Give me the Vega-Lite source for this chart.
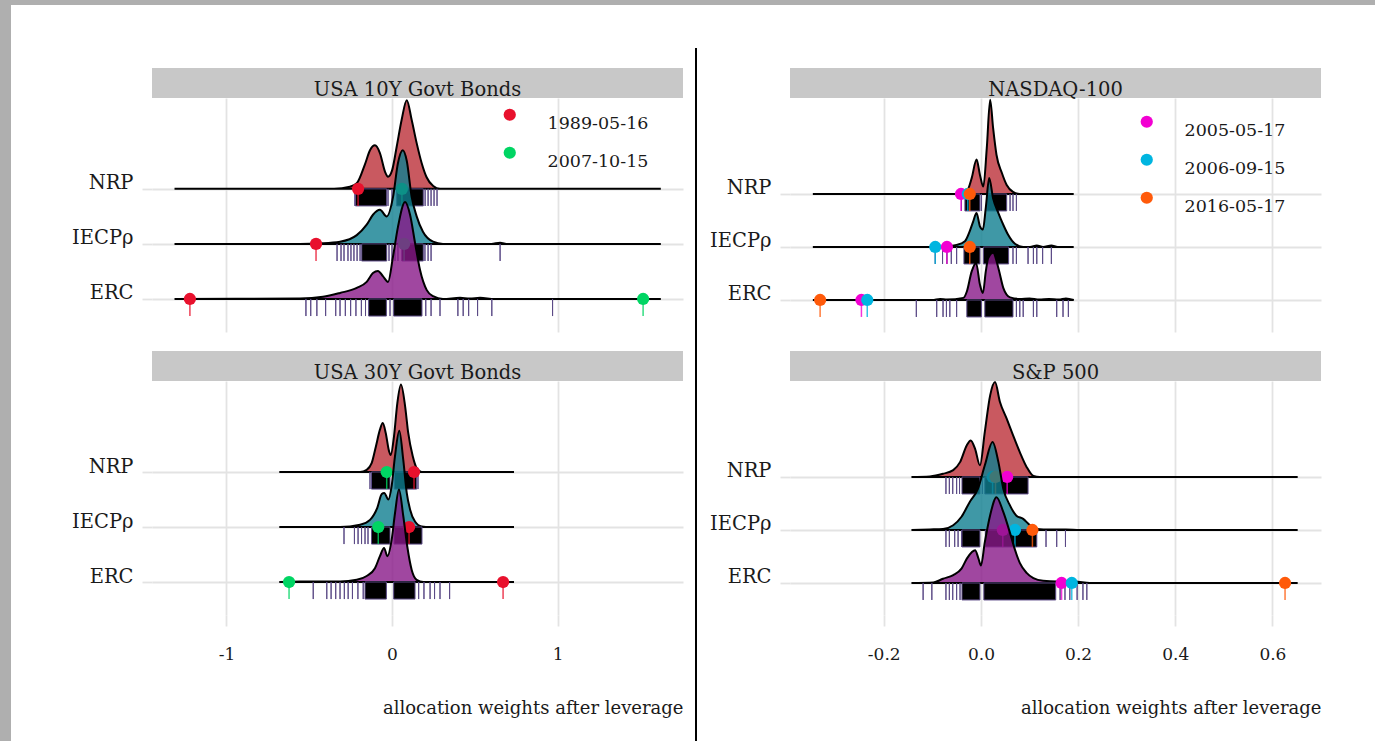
{
"$schema":"https://vega.github.io/schema/vega-lite/v6.json",
"padding":0,
"background":"white",
"config":{
 "view":{"stroke":null},
 "axis":{"domain":false,"gridColor":"#e3e3e3","gridWidth":1.8,"tickColor":"#e3e3e3","tickWidth":1.8,"labelFont":"DejaVu Serif","labelColor":"#1a1a1a","titleFont":"DejaVu Serif","titleColor":"#1a1a1a","titleFontWeight":"normal","labelOverlap":false},
 "axisY":{"tickSize":10,"labelPadding":9,"labelBaseline":"alphabetic","labelFontSize":19.5},
 "axisX":{"tickSize":11,"labelPadding":20,"labelFontSize":17,"titleFontSize":18,"titleAnchor":"end","titlePadding":37}
},
"datasets":{
"tl_d":[
{"m":"NRP","x":-1.314,"y":2},{"m":"NRP","x":-0.35,"y":2},{"m":"NRP","x":-0.254,"y":2.04},{"m":"NRP","x":-0.213,"y":2.1},{"m":"NRP","x":-0.163,"y":2.45},{"m":"NRP","x":-0.133,"y":2.7},{"m":"NRP","x":-0.103,"y":2.79},{"m":"NRP","x":-0.073,"y":2.65},{"m":"NRP","x":-0.042,"y":2.31},{"m":"NRP","x":-0.024,"y":2.22},{"m":"NRP","x":0,"y":2.33},{"m":"NRP","x":0.028,"y":2.76},{"m":"NRP","x":0.058,"y":3.25},{"m":"NRP","x":0.089,"y":3.61},{"m":"NRP","x":0.119,"y":3.25},{"m":"NRP","x":0.149,"y":2.83},{"m":"NRP","x":0.179,"y":2.47},{"m":"NRP","x":0.209,"y":2.21},{"m":"NRP","x":0.249,"y":2.05},{"m":"NRP","x":0.29,"y":2},{"m":"NRP","x":1.624,"y":2},
{"m":"IECP","x":-1.314,"y":1},{"m":"IECP","x":-0.556,"y":1},{"m":"IECP","x":-0.435,"y":1.01},{"m":"IECP","x":-0.314,"y":1.04},{"m":"IECP","x":-0.213,"y":1.16},{"m":"IECP","x":-0.153,"y":1.35},{"m":"IECP","x":-0.115,"y":1.53},{"m":"IECP","x":-0.073,"y":1.62},{"m":"IECP","x":-0.032,"y":1.5},{"m":"IECP","x":0.006,"y":1.85},{"m":"IECP","x":0.036,"y":2.47},{"m":"IECP","x":0.065,"y":2.7},{"m":"IECP","x":0.089,"y":2.51},{"m":"IECP","x":0.119,"y":1.85},{"m":"IECP","x":0.149,"y":1.5},{"m":"IECP","x":0.187,"y":1.22},{"m":"IECP","x":0.248,"y":1.04},{"m":"IECP","x":0.308,"y":1},{"m":"IECP","x":0.6,"y":1},{"m":"IECP","x":0.653,"y":1.02},{"m":"IECP","x":0.7,"y":1},{"m":"IECP","x":1.624,"y":1},
{"m":"ERC","x":-1.314,"y":0},{"m":"ERC","x":-0.556,"y":0.01},{"m":"ERC","x":-0.417,"y":0.04},{"m":"ERC","x":-0.314,"y":0.11},{"m":"ERC","x":-0.213,"y":0.2},{"m":"ERC","x":-0.153,"y":0.31},{"m":"ERC","x":-0.115,"y":0.47},{"m":"ERC","x":-0.085,"y":0.51},{"m":"ERC","x":-0.054,"y":0.41},{"m":"ERC","x":-0.024,"y":0.31},{"m":"ERC","x":0.006,"y":0.77},{"m":"ERC","x":0.036,"y":1.31},{"m":"ERC","x":0.079,"y":1.76},{"m":"ERC","x":0.109,"y":1.53},{"m":"ERC","x":0.139,"y":1.02},{"m":"ERC","x":0.169,"y":0.53},{"m":"ERC","x":0.21,"y":0.16},{"m":"ERC","x":0.248,"y":0.05},{"m":"ERC","x":0.308,"y":0},{"m":"ERC","x":0.411,"y":0.02},{"m":"ERC","x":0.47,"y":0.01},{"m":"ERC","x":0.532,"y":0.02},{"m":"ERC","x":0.62,"y":0},{"m":"ERC","x":1.624,"y":0}
],
"tl_r":[
{"m":"NRP","x":-0.221,"x2":-0.032},{"m":"NRP","x":0.028,"x2":0.189},{"m":"NRP","x":-0.224,"x2":-0.224},{"m":"NRP","x":-0.024,"x2":-0.024},{"m":"NRP","x":0,"x2":0},{"m":"NRP","x":0.2,"x2":0.2},{"m":"NRP","x":0.218,"x2":0.218},{"m":"NRP","x":0.236,"x2":0.236},{"m":"NRP","x":0.254,"x2":0.254},{"m":"NRP","x":0.272,"x2":0.272},
{"m":"IECP","x":-0.183,"x2":-0.032},{"m":"IECP","x":0.059,"x2":0.189},{"m":"IECP","x":-0.332,"x2":-0.332},{"m":"IECP","x":-0.308,"x2":-0.308},{"m":"IECP","x":-0.29,"x2":-0.29},{"m":"IECP","x":-0.266,"x2":-0.266},{"m":"IECP","x":-0.248,"x2":-0.248},{"m":"IECP","x":-0.23,"x2":-0.23},{"m":"IECP","x":-0.211,"x2":-0.211},{"m":"IECP","x":-0.193,"x2":-0.193},{"m":"IECP","x":-0.018,"x2":-0.018},{"m":"IECP","x":0,"x2":0},{"m":"IECP","x":0.018,"x2":0.018},{"m":"IECP","x":0.036,"x2":0.036},{"m":"IECP","x":0.199,"x2":0.199},{"m":"IECP","x":0.218,"x2":0.218},{"m":"IECP","x":0.236,"x2":0.236},{"m":"IECP","x":0.653,"x2":0.653},
{"m":"ERC","x":-0.141,"x2":-0.034},{"m":"ERC","x":0.01,"x2":0.181},{"m":"ERC","x":-0.52,"x2":-0.52},{"m":"ERC","x":-0.491,"x2":-0.491},{"m":"ERC","x":-0.454,"x2":-0.454},{"m":"ERC","x":-0.401,"x2":-0.401},{"m":"ERC","x":-0.34,"x2":-0.34},{"m":"ERC","x":-0.314,"x2":-0.314},{"m":"ERC","x":-0.282,"x2":-0.282},{"m":"ERC","x":-0.25,"x2":-0.25},{"m":"ERC","x":-0.218,"x2":-0.218},{"m":"ERC","x":-0.185,"x2":-0.185},{"m":"ERC","x":-0.16,"x2":-0.16},{"m":"ERC","x":-0.012,"x2":-0.012},{"m":"ERC","x":0.204,"x2":0.204},{"m":"ERC","x":0.236,"x2":0.236},{"m":"ERC","x":0.29,"x2":0.29},{"m":"ERC","x":0.398,"x2":0.398},{"m":"ERC","x":0.43,"x2":0.43},{"m":"ERC","x":0.463,"x2":0.463},{"m":"ERC","x":0.517,"x2":0.517},{"m":"ERC","x":0.603,"x2":0.603},{"m":"ERC","x":0.97,"x2":0.97}
],
"tl_p":[
{"m":"NRP","x":-0.205,"date":"1989-05-16"},{"m":"NRP","x":0.06,"date":"2007-10-15"},
{"m":"IECP","x":-0.459,"date":"1989-05-16"},{"m":"IECP","x":0.073,"date":"2007-10-15"},
{"m":"ERC","x":-1.221,"date":"1989-05-16"},{"m":"ERC","x":1.517,"date":"2007-10-15"}
],
"bl_d":[
{"m":"NRP","x":-0.681,"y":2},{"m":"NRP","x":-0.193,"y":2},{"m":"NRP","x":-0.153,"y":2.04},{"m":"NRP","x":-0.123,"y":2.16},{"m":"NRP","x":-0.097,"y":2.47},{"m":"NRP","x":-0.073,"y":2.77},{"m":"NRP","x":-0.056,"y":2.89},{"m":"NRP","x":-0.038,"y":2.71},{"m":"NRP","x":-0.018,"y":2.38},{"m":"NRP","x":-0.008,"y":2.31},{"m":"NRP","x":0.012,"y":2.65},{"m":"NRP","x":0.032,"y":3.25},{"m":"NRP","x":0.054,"y":3.59},{"m":"NRP","x":0.079,"y":3.2},{"m":"NRP","x":0.098,"y":2.71},{"m":"NRP","x":0.125,"y":2.29},{"m":"NRP","x":0.149,"y":2.07},{"m":"NRP","x":0.179,"y":2},{"m":"NRP","x":0.737,"y":2},
{"m":"IECP","x":-0.681,"y":1},{"m":"IECP","x":-0.314,"y":1},{"m":"IECP","x":-0.193,"y":1.04},{"m":"IECP","x":-0.133,"y":1.13},{"m":"IECP","x":-0.089,"y":1.35},{"m":"IECP","x":-0.062,"y":1.6},{"m":"IECP","x":-0.047,"y":1.62},{"m":"IECP","x":-0.022,"y":1.5},{"m":"IECP","x":-0.002,"y":1.75},{"m":"IECP","x":0.018,"y":2.29},{"m":"IECP","x":0.044,"y":2.75},{"m":"IECP","x":0.068,"y":2.22},{"m":"IECP","x":0.089,"y":1.62},{"m":"IECP","x":0.109,"y":1.32},{"m":"IECP","x":0.139,"y":1.1},{"m":"IECP","x":0.179,"y":1.01},{"m":"IECP","x":0.23,"y":1},{"m":"IECP","x":0.737,"y":1},
{"m":"ERC","x":-0.681,"y":0},{"m":"ERC","x":-0.556,"y":0.01},{"m":"ERC","x":-0.314,"y":0.01},{"m":"ERC","x":-0.213,"y":0.04},{"m":"ERC","x":-0.153,"y":0.11},{"m":"ERC","x":-0.103,"y":0.25},{"m":"ERC","x":-0.073,"y":0.47},{"m":"ERC","x":-0.048,"y":0.62},{"m":"ERC","x":-0.028,"y":0.47},{"m":"ERC","x":-0.002,"y":0.77},{"m":"ERC","x":0.018,"y":1.25},{"m":"ERC","x":0.042,"y":1.68},{"m":"ERC","x":0.068,"y":1.2},{"m":"ERC","x":0.092,"y":0.65},{"m":"ERC","x":0.119,"y":0.22},{"m":"ERC","x":0.149,"y":0.04},{"m":"ERC","x":0.189,"y":0},{"m":"ERC","x":0.737,"y":0}
],
"bl_r":[
{"m":"NRP","x":-0.124,"x2":-0.012},{"m":"NRP","x":0.014,"x2":0.149},{"m":"NRP","x":-0.133,"x2":-0.133},{"m":"NRP","x":0.157,"x2":0.157},
{"m":"IECP","x":-0.124,"x2":-0.012},{"m":"IECP","x":0.012,"x2":0.181},{"m":"IECP","x":-0.29,"x2":-0.29},{"m":"IECP","x":-0.227,"x2":-0.227},{"m":"IECP","x":-0.205,"x2":-0.205},{"m":"IECP","x":-0.184,"x2":-0.184},{"m":"IECP","x":-0.163,"x2":-0.163},{"m":"IECP","x":-0.145,"x2":-0.145},
{"m":"ERC","x":-0.163,"x2":-0.034},{"m":"ERC","x":0.01,"x2":0.139},{"m":"ERC","x":-0.476,"x2":-0.476},{"m":"ERC","x":-0.394,"x2":-0.394},{"m":"ERC","x":-0.368,"x2":-0.368},{"m":"ERC","x":-0.34,"x2":-0.34},{"m":"ERC","x":-0.314,"x2":-0.314},{"m":"ERC","x":-0.288,"x2":-0.288},{"m":"ERC","x":-0.265,"x2":-0.265},{"m":"ERC","x":-0.239,"x2":-0.239},{"m":"ERC","x":-0.206,"x2":-0.206},{"m":"ERC","x":-0.174,"x2":-0.174},{"m":"ERC","x":0.161,"x2":0.161},{"m":"ERC","x":0.193,"x2":0.193},{"m":"ERC","x":0.23,"x2":0.23},{"m":"ERC","x":0.257,"x2":0.257},{"m":"ERC","x":0.29,"x2":0.29},{"m":"ERC","x":0.348,"x2":0.348}
],
"bl_p":[
{"m":"NRP","x":-0.032,"date":"2007-10-15"},{"m":"NRP","x":0.133,"date":"1989-05-16"},
{"m":"IECP","x":-0.083,"date":"2007-10-15"},{"m":"IECP","x":0.103,"date":"1989-05-16"},
{"m":"ERC","x":-0.622,"date":"2007-10-15"},{"m":"ERC","x":0.671,"date":"1989-05-16"}
],
"tr_d":[
{"m":"NRP","x":-0.346,"y":2},{"m":"NRP","x":-0.043,"y":2},{"m":"NRP","x":-0.029,"y":2.05},{"m":"NRP","x":-0.019,"y":2.3},{"m":"NRP","x":-0.009,"y":2.65},{"m":"NRP","x":-0.002,"y":2.36},{"m":"NRP","x":0.005,"y":2.14},{"m":"NRP","x":0.012,"y":2.86},{"m":"NRP","x":0.019,"y":3.78},{"m":"NRP","x":0.025,"y":3.25},{"m":"NRP","x":0.032,"y":2.74},{"m":"NRP","x":0.043,"y":2.4},{"m":"NRP","x":0.053,"y":2.17},{"m":"NRP","x":0.066,"y":2.04},{"m":"NRP","x":0.08,"y":2},{"m":"NRP","x":0.191,"y":2},
{"m":"IECP","x":-0.346,"y":1},{"m":"IECP","x":-0.084,"y":1},{"m":"IECP","x":-0.05,"y":1.04},{"m":"IECP","x":-0.033,"y":1.11},{"m":"IECP","x":-0.023,"y":1.3},{"m":"IECP","x":-0.016,"y":1.48},{"m":"IECP","x":-0.009,"y":1.64},{"m":"IECP","x":-0.002,"y":1.39},{"m":"IECP","x":0.004,"y":1.33},{"m":"IECP","x":0.01,"y":1.74},{"m":"IECP","x":0.017,"y":2.3},{"m":"IECP","x":0.025,"y":1.92},{"m":"IECP","x":0.036,"y":1.64},{"m":"IECP","x":0.046,"y":1.42},{"m":"IECP","x":0.056,"y":1.23},{"m":"IECP","x":0.07,"y":1.06},{"m":"IECP","x":0.087,"y":1},{"m":"IECP","x":0.101,"y":1},{"m":"IECP","x":0.115,"y":1.03},{"m":"IECP","x":0.128,"y":1},{"m":"IECP","x":0.145,"y":1.03},{"m":"IECP","x":0.158,"y":1},{"m":"IECP","x":0.191,"y":1},
{"m":"ERC","x":-0.346,"y":0},{"m":"ERC","x":-0.1,"y":0},{"m":"ERC","x":-0.084,"y":0.02},{"m":"ERC","x":-0.07,"y":0.01},{"m":"ERC","x":-0.036,"y":0.04},{"m":"ERC","x":-0.029,"y":0.16},{"m":"ERC","x":-0.019,"y":0.54},{"m":"ERC","x":-0.01,"y":0.7},{"m":"ERC","x":-0.002,"y":0.29},{"m":"ERC","x":0.004,"y":0.13},{"m":"ERC","x":0.01,"y":0.54},{"m":"ERC","x":0.015,"y":0.79},{"m":"ERC","x":0.025,"y":0.89},{"m":"ERC","x":0.036,"y":0.6},{"m":"ERC","x":0.046,"y":0.23},{"m":"ERC","x":0.06,"y":0.05},{"m":"ERC","x":0.08,"y":0.02},{"m":"ERC","x":0.1,"y":0.03},{"m":"ERC","x":0.12,"y":0.01},{"m":"ERC","x":0.14,"y":0.02},{"m":"ERC","x":0.16,"y":0.01},{"m":"ERC","x":0.175,"y":0.03},{"m":"ERC","x":0.191,"y":0}
],
"tr_r":[
{"m":"NRP","x":-0.033,"x2":-0.002},{"m":"NRP","x":0.012,"x2":0.053},{"m":"NRP","x":-0.04,"x2":-0.04},{"m":"NRP","x":0.001,"x2":0.001},{"m":"NRP","x":0.06,"x2":0.06},{"m":"NRP","x":0.066,"x2":0.066},{"m":"NRP","x":0.073,"x2":0.073},
{"m":"IECP","x":-0.035,"x2":-0.002},{"m":"IECP","x":0.005,"x2":0.057},{"m":"IECP","x":-0.094,"x2":-0.094},{"m":"IECP","x":-0.079,"x2":-0.079},{"m":"IECP","x":-0.07,"x2":-0.07},{"m":"IECP","x":-0.061,"x2":-0.061},{"m":"IECP","x":-0.05,"x2":-0.05},{"m":"IECP","x":0.066,"x2":0.066},{"m":"IECP","x":0.073,"x2":0.073},{"m":"IECP","x":0.097,"x2":0.097},{"m":"IECP","x":0.108,"x2":0.108},{"m":"IECP","x":0.115,"x2":0.115},{"m":"IECP","x":0.127,"x2":0.127},{"m":"IECP","x":0.145,"x2":0.145},
{"m":"ERC","x":-0.029,"x2":0.001},{"m":"ERC","x":0.008,"x2":0.066},{"m":"ERC","x":-0.133,"x2":-0.133},{"m":"ERC","x":-0.091,"x2":-0.091},{"m":"ERC","x":-0.078,"x2":-0.078},{"m":"ERC","x":-0.071,"x2":-0.071},{"m":"ERC","x":-0.064,"x2":-0.064},{"m":"ERC","x":-0.05,"x2":-0.05},{"m":"ERC","x":0.073,"x2":0.073},{"m":"ERC","x":0.08,"x2":0.08},{"m":"ERC","x":0.087,"x2":0.087},{"m":"ERC","x":0.108,"x2":0.108},{"m":"ERC","x":0.115,"x2":0.115},{"m":"ERC","x":0.156,"x2":0.156},{"m":"ERC","x":0.169,"x2":0.169},{"m":"ERC","x":0.18,"x2":0.18}
],
"tr_p":[
{"m":"NRP","x":-0.041,"date":"2005-05-17"},{"m":"NRP","x":-0.027,"date":"2006-09-15"},{"m":"NRP","x":-0.023,"date":"2016-05-17"},
{"m":"IECP","x":-0.094,"date":"2006-09-15"},{"m":"IECP","x":-0.07,"date":"2005-05-17"},{"m":"IECP","x":-0.023,"date":"2016-05-17"},
{"m":"ERC","x":-0.331,"date":"2016-05-17"},{"m":"ERC","x":-0.246,"date":"2005-05-17"},{"m":"ERC","x":-0.234,"date":"2006-09-15"}
],
"br_d":[
{"m":"NRP","x":-0.143,"y":2},{"m":"NRP","x":-0.105,"y":2.01},{"m":"NRP","x":-0.078,"y":2.06},{"m":"NRP","x":-0.057,"y":2.13},{"m":"NRP","x":-0.043,"y":2.28},{"m":"NRP","x":-0.029,"y":2.6},{"m":"NRP","x":-0.021,"y":2.69},{"m":"NRP","x":-0.012,"y":2.53},{"m":"NRP","x":-0.002,"y":2.22},{"m":"NRP","x":0.008,"y":2.85},{"m":"NRP","x":0.019,"y":3.54},{"m":"NRP","x":0.029,"y":3.79},{"m":"NRP","x":0.039,"y":3.42},{"m":"NRP","x":0.053,"y":3.1},{"m":"NRP","x":0.066,"y":2.79},{"m":"NRP","x":0.08,"y":2.47},{"m":"NRP","x":0.094,"y":2.19},{"m":"NRP","x":0.108,"y":2.02},{"m":"NRP","x":0.121,"y":2},{"m":"NRP","x":0.652,"y":2},
{"m":"IECP","x":-0.143,"y":1},{"m":"IECP","x":-0.105,"y":1.01},{"m":"IECP","x":-0.078,"y":1.02},{"m":"IECP","x":-0.057,"y":1.09},{"m":"IECP","x":-0.04,"y":1.25},{"m":"IECP","x":-0.023,"y":1.53},{"m":"IECP","x":-0.006,"y":1.78},{"m":"IECP","x":0.008,"y":2.22},{"m":"IECP","x":0.024,"y":2.66},{"m":"IECP","x":0.036,"y":2.28},{"m":"IECP","x":0.046,"y":1.78},{"m":"IECP","x":0.06,"y":1.46},{"m":"IECP","x":0.073,"y":1.27},{"m":"IECP","x":0.087,"y":1.21},{"m":"IECP","x":0.101,"y":1.09},{"m":"IECP","x":0.115,"y":1.02},{"m":"IECP","x":0.142,"y":1.01},{"m":"IECP","x":0.175,"y":1.01},{"m":"IECP","x":0.204,"y":1},{"m":"IECP","x":0.652,"y":1},
{"m":"ERC","x":-0.143,"y":0},{"m":"ERC","x":-0.098,"y":0.01},{"m":"ERC","x":-0.078,"y":0.08},{"m":"ERC","x":-0.057,"y":0.15},{"m":"ERC","x":-0.04,"y":0.27},{"m":"ERC","x":-0.029,"y":0.46},{"m":"ERC","x":-0.019,"y":0.58},{"m":"ERC","x":-0.012,"y":0.62},{"m":"ERC","x":-0.005,"y":0.46},{"m":"ERC","x":0,"y":0.33},{"m":"ERC","x":0.008,"y":0.77},{"m":"ERC","x":0.019,"y":1.28},{"m":"ERC","x":0.032,"y":1.62},{"m":"ERC","x":0.046,"y":1.34},{"m":"ERC","x":0.06,"y":0.94},{"m":"ERC","x":0.07,"y":0.63},{"m":"ERC","x":0.08,"y":0.38},{"m":"ERC","x":0.094,"y":0.19},{"m":"ERC","x":0.108,"y":0.09},{"m":"ERC","x":0.128,"y":0.04},{"m":"ERC","x":0.156,"y":0.03},{"m":"ERC","x":0.193,"y":0.03},{"m":"ERC","x":0.224,"y":0},{"m":"ERC","x":0.652,"y":0}
],
"br_r":[
{"m":"NRP","x":-0.039,"x2":-0.002},{"m":"NRP","x":0.008,"x2":0.097},{"m":"NRP","x":-0.072,"x2":-0.072},{"m":"NRP","x":-0.065,"x2":-0.065},{"m":"NRP","x":-0.058,"x2":-0.058},{"m":"NRP","x":-0.05,"x2":-0.05},{"m":"NRP","x":-0.044,"x2":-0.044},{"m":"NRP","x":0.003,"x2":0.003},
{"m":"IECP","x":-0.039,"x2":-0.002},{"m":"IECP","x":0.009,"x2":0.115},{"m":"IECP","x":-0.072,"x2":-0.072},{"m":"IECP","x":-0.065,"x2":-0.065},{"m":"IECP","x":-0.054,"x2":-0.054},{"m":"IECP","x":-0.047,"x2":-0.047},{"m":"IECP","x":-0.04,"x2":-0.04},{"m":"IECP","x":0.134,"x2":0.134},{"m":"IECP","x":0.156,"x2":0.156},{"m":"IECP","x":0.174,"x2":0.174},
{"m":"ERC","x":-0.039,"x2":-0.002},{"m":"ERC","x":0.006,"x2":0.154},{"m":"ERC","x":-0.119,"x2":-0.119},{"m":"ERC","x":-0.101,"x2":-0.101},{"m":"ERC","x":-0.072,"x2":-0.072},{"m":"ERC","x":-0.065,"x2":-0.065},{"m":"ERC","x":-0.058,"x2":-0.058},{"m":"ERC","x":-0.05,"x2":-0.05},{"m":"ERC","x":-0.043,"x2":-0.043},{"m":"ERC","x":0.163,"x2":0.163},{"m":"ERC","x":0.173,"x2":0.173},{"m":"ERC","x":0.183,"x2":0.183},{"m":"ERC","x":0.198,"x2":0.198},{"m":"ERC","x":0.21,"x2":0.21},{"m":"ERC","x":0.218,"x2":0.218}
],
"br_p":[
{"m":"NRP","x":0.024,"date":"2006-09-15"},{"m":"NRP","x":0.03,"date":"2016-05-17"},{"m":"NRP","x":0.054,"date":"2005-05-17"},
{"m":"IECP","x":0.045,"date":"2005-05-17"},{"m":"IECP","x":0.07,"date":"2006-09-15"},{"m":"IECP","x":0.106,"date":"2016-05-17"},
{"m":"ERC","x":0.166,"date":"2005-05-17"},{"m":"ERC","x":0.187,"date":"2006-09-15"},{"m":"ERC","x":0.626,"date":"2016-05-17"}
]
},
"spacing":0,
"resolve":{"scale":{"color":"independent","stroke":"independent"}},
"hconcat":[
{"width":11,"height":741,"data":{"values":[]},"mark":"point","view":{"fill":"#afafaf","stroke":null}},
{"spacing":43,
 "resolve":{"scale":{"color":"independent","stroke":"independent"}},
 "vconcat":[
 {"width":1364,"height":5,"data":{"values":[]},"mark":"point","view":{"fill":"#afafaf","stroke":null}},
 {"spacing":12,
  "resolve":{"scale":{"color":"independent","stroke":"independent"}},
  "hconcat":[
  {"width":48,"height":1,"data":{"values":[]},"mark":"point"},
  {"spacing":19,
   "resolve":{"scale":{"color":"independent","stroke":"independent"}},
   "vconcat":[
   {"spacing":0,"bounds":"flush",
    "resolve":{"scale":{"color":"independent","stroke":"independent"}},
    "vconcat":[
    {"width":531,"height":20,"data":{"values":[]},"mark":"point"},
    {"width":531,"height":30,"view":{"fill":"#c8c8c8","stroke":null},"data":{"values":[{"t":"USA 10Y Govt Bonds"}]},"mark":{"type":"text","font":"DejaVu Serif","fontSize":19.5,"color":"#1a1a1a","baseline":"alphabetic","dy":13},"encoding":{"text":{"field":"t"}}},
    {"width":531,"height":234,
     "layer":[
      {"data":{"name":"tl_d"},"transform":[{"filter":"datum.m==='NRP'"}],"mark":{"type":"area","fill":"#bb2f38","fillOpacity":0.8,"stroke":"#000000","strokeWidth":2,"interpolate":"monotone"},
       "encoding":{"x":{"field":"x","type":"quantitative","scale":{"domain":[-1.45,1.758],"nice":false,"zero":false},"axis":{"values":[-1,0,1],"labels":false,"ticks":false,"title":null}},
        "y":{"field":"y","type":"quantitative","scale":{"domain":[-0.6,3.65],"nice":false,"zero":false},"axis":{"values":[0,1,2],"title":null,"labelExpr":"datum.value == 2 ? 'NRP' : datum.value == 1 ? 'IECPρ' : 'ERC'"}},"y2":{"datum":2}}},
      {"data":{"name":"tl_r"},"transform":[{"filter":"datum.m==='NRP'"}],"mark":{"type":"rect","fill":"#000000","stroke":"#5b4a86","strokeWidth":1},"encoding":{"x":{"field":"x","type":"quantitative"},"x2":{"field":"x2"},"y":{"datum":2},"y2":{"datum":1.69}}},
      {"data":{"name":"tl_p"},"transform":[{"filter":"datum.m==='NRP'"}],"mark":{"type":"rule","strokeWidth":1.5,"opacity":0.8},"encoding":{"x":{"field":"x","type":"quantitative"},"y":{"datum":2},"y2":{"datum":1.69},"stroke":{"field":"date","type":"nominal","scale":{"domain":["2007-10-15","1989-05-16"],"range":["#00d563","#e8112d"]},"legend":null}}},
      {"data":{"name":"tl_p"},"transform":[{"filter":"datum.m==='NRP'"}],"mark":{"type":"circle","size":150,"opacity":1},"encoding":{"x":{"field":"x","type":"quantitative"},"y":{"datum":2},"color":{"field":"date","type":"nominal","scale":{"domain":["1989-05-16","2007-10-15"],"range":["#e8112d","#00d563"]},"legend":{"orient":"none","legendX":349,"legendY":8,"title":null,"symbolType":"circle","symbolSize":150,"labelFont":"DejaVu Serif","labelFontSize":17.5,"labelColor":"#1a1a1a","labelOffset":29,"rowPadding":11,"padding":0,"labelBaseline":"top"}}}},
      {"data":{"name":"tl_d"},"transform":[{"filter":"datum.m==='IECP'"}],"mark":{"type":"area","fill":"#0f7e90","fillOpacity":0.8,"stroke":"#000000","strokeWidth":2,"interpolate":"monotone"},"encoding":{"x":{"field":"x","type":"quantitative"},"y":{"field":"y","type":"quantitative"},"y2":{"datum":1}}},
      {"data":{"name":"tl_r"},"transform":[{"filter":"datum.m==='IECP'"}],"mark":{"type":"rect","fill":"#000000","stroke":"#5b4a86","strokeWidth":1},"encoding":{"x":{"field":"x","type":"quantitative"},"x2":{"field":"x2"},"y":{"datum":1},"y2":{"datum":0.69}}},
      {"data":{"name":"tl_p"},"transform":[{"filter":"datum.m==='IECP'"}],"mark":{"type":"rule","strokeWidth":1.5,"opacity":0.8},"encoding":{"x":{"field":"x","type":"quantitative"},"y":{"datum":1},"y2":{"datum":0.69},"stroke":{"field":"date","type":"nominal","scale":{"domain":["2007-10-15","1989-05-16"],"range":["#00d563","#e8112d"]},"legend":null}}},
      {"data":{"name":"tl_p"},"transform":[{"filter":"datum.m==='IECP'"}],"mark":{"type":"circle","size":150,"opacity":1},"encoding":{"x":{"field":"x","type":"quantitative"},"y":{"datum":1},"color":{"field":"date","type":"nominal","scale":{"domain":["1989-05-16","2007-10-15"],"range":["#e8112d","#00d563"]}}}},
      {"data":{"name":"tl_d"},"transform":[{"filter":"datum.m==='ERC'"}],"mark":{"type":"area","fill":"#881988","fillOpacity":0.8,"stroke":"#000000","strokeWidth":2,"interpolate":"monotone"},"encoding":{"x":{"field":"x","type":"quantitative"},"y":{"field":"y","type":"quantitative"},"y2":{"datum":0}}},
      {"data":{"name":"tl_r"},"transform":[{"filter":"datum.m==='ERC'"}],"mark":{"type":"rect","fill":"#000000","stroke":"#5b4a86","strokeWidth":1},"encoding":{"x":{"field":"x","type":"quantitative"},"x2":{"field":"x2"},"y":{"datum":0},"y2":{"datum":-0.31}}},
      {"data":{"name":"tl_p"},"transform":[{"filter":"datum.m==='ERC'"}],"mark":{"type":"rule","strokeWidth":1.5,"opacity":0.8},"encoding":{"x":{"field":"x","type":"quantitative"},"y":{"datum":0},"y2":{"datum":-0.31},"stroke":{"field":"date","type":"nominal","scale":{"domain":["2007-10-15","1989-05-16"],"range":["#00d563","#e8112d"]},"legend":null}}},
      {"data":{"name":"tl_p"},"transform":[{"filter":"datum.m==='ERC'"}],"mark":{"type":"circle","size":150,"opacity":1},"encoding":{"x":{"field":"x","type":"quantitative"},"y":{"datum":0},"color":{"field":"date","type":"nominal","scale":{"domain":["1989-05-16","2007-10-15"],"range":["#e8112d","#00d563"]}}}}
     ]}
    ]},
   {"spacing":0,"bounds":"flush",
    "resolve":{"scale":{"color":"independent","stroke":"independent"}},
    "vconcat":[
    {"width":531,"height":30,"view":{"fill":"#c8c8c8","stroke":null},"data":{"values":[{"t":"USA 30Y Govt Bonds"}]},"mark":{"type":"text","font":"DejaVu Serif","fontSize":19.5,"color":"#1a1a1a","baseline":"alphabetic","dy":13},"encoding":{"text":{"field":"t"}}},
    {"width":531,"height":234,
     "layer":[
      {"data":{"name":"bl_d"},"transform":[{"filter":"datum.m==='NRP'"}],"mark":{"type":"area","fill":"#bb2f38","fillOpacity":0.8,"stroke":"#000000","strokeWidth":2,"interpolate":"monotone"},
       "encoding":{"x":{"field":"x","type":"quantitative","scale":{"domain":[-1.45,1.758],"nice":false,"zero":false},"axis":{"values":[-1,0,1],"format":".0f","labelExpr":"replace(datum.label, '−', '-')","title":"allocation weights after leverage"}},
        "y":{"field":"y","type":"quantitative","scale":{"domain":[-0.6,3.655],"nice":false,"zero":false},"axis":{"values":[0,1,2],"title":null,"labelExpr":"datum.value == 2 ? 'NRP' : datum.value == 1 ? 'IECPρ' : 'ERC'"}},"y2":{"datum":2}}},
      {"data":{"name":"bl_r"},"transform":[{"filter":"datum.m==='NRP'"}],"mark":{"type":"rect","fill":"#000000","stroke":"#5b4a86","strokeWidth":1},"encoding":{"x":{"field":"x","type":"quantitative"},"x2":{"field":"x2"},"y":{"datum":2},"y2":{"datum":1.69}}},
      {"data":{"name":"bl_p"},"transform":[{"filter":"datum.m==='NRP'"}],"mark":{"type":"rule","strokeWidth":1.5,"opacity":0.8},"encoding":{"x":{"field":"x","type":"quantitative"},"y":{"datum":2},"y2":{"datum":1.69},"stroke":{"field":"date","type":"nominal","scale":{"domain":["2007-10-15","1989-05-16"],"range":["#00d563","#e8112d"]},"legend":null}}},
      {"data":{"name":"bl_p"},"transform":[{"filter":"datum.m==='NRP'"}],"mark":{"type":"circle","size":150,"opacity":1},"encoding":{"x":{"field":"x","type":"quantitative"},"y":{"datum":2},"color":{"field":"date","type":"nominal","scale":{"domain":["1989-05-16","2007-10-15"],"range":["#e8112d","#00d563"]},"legend":null}}},
      {"data":{"name":"bl_d"},"transform":[{"filter":"datum.m==='IECP'"}],"mark":{"type":"area","fill":"#0f7e90","fillOpacity":0.8,"stroke":"#000000","strokeWidth":2,"interpolate":"monotone"},"encoding":{"x":{"field":"x","type":"quantitative"},"y":{"field":"y","type":"quantitative"},"y2":{"datum":1}}},
      {"data":{"name":"bl_r"},"transform":[{"filter":"datum.m==='IECP'"}],"mark":{"type":"rect","fill":"#000000","stroke":"#5b4a86","strokeWidth":1},"encoding":{"x":{"field":"x","type":"quantitative"},"x2":{"field":"x2"},"y":{"datum":1},"y2":{"datum":0.69}}},
      {"data":{"name":"bl_p"},"transform":[{"filter":"datum.m==='IECP'"}],"mark":{"type":"rule","strokeWidth":1.5,"opacity":0.8},"encoding":{"x":{"field":"x","type":"quantitative"},"y":{"datum":1},"y2":{"datum":0.69},"stroke":{"field":"date","type":"nominal","scale":{"domain":["2007-10-15","1989-05-16"],"range":["#00d563","#e8112d"]},"legend":null}}},
      {"data":{"name":"bl_p"},"transform":[{"filter":"datum.m==='IECP'"}],"mark":{"type":"circle","size":150,"opacity":1},"encoding":{"x":{"field":"x","type":"quantitative"},"y":{"datum":1},"color":{"field":"date","type":"nominal","scale":{"domain":["1989-05-16","2007-10-15"],"range":["#e8112d","#00d563"]},"legend":null}}},
      {"data":{"name":"bl_d"},"transform":[{"filter":"datum.m==='ERC'"}],"mark":{"type":"area","fill":"#881988","fillOpacity":0.8,"stroke":"#000000","strokeWidth":2,"interpolate":"monotone"},"encoding":{"x":{"field":"x","type":"quantitative"},"y":{"field":"y","type":"quantitative"},"y2":{"datum":0}}},
      {"data":{"name":"bl_r"},"transform":[{"filter":"datum.m==='ERC'"}],"mark":{"type":"rect","fill":"#000000","stroke":"#5b4a86","strokeWidth":1},"encoding":{"x":{"field":"x","type":"quantitative"},"x2":{"field":"x2"},"y":{"datum":0},"y2":{"datum":-0.31}}},
      {"data":{"name":"bl_p"},"transform":[{"filter":"datum.m==='ERC'"}],"mark":{"type":"rule","strokeWidth":1.5,"opacity":0.8},"encoding":{"x":{"field":"x","type":"quantitative"},"y":{"datum":0},"y2":{"datum":-0.31},"stroke":{"field":"date","type":"nominal","scale":{"domain":["2007-10-15","1989-05-16"],"range":["#00d563","#e8112d"]},"legend":null}}},
      {"data":{"name":"bl_p"},"transform":[{"filter":"datum.m==='ERC'"}],"mark":{"type":"circle","size":150,"opacity":1},"encoding":{"x":{"field":"x","type":"quantitative"},"y":{"datum":0},"color":{"field":"date","type":"nominal","scale":{"domain":["1989-05-16","2007-10-15"],"range":["#e8112d","#00d563"]},"legend":null}}}
     ]}
    ]}
   ]},
  {"width":2,"height":693,"data":{"values":[]},"mark":"point","view":{"fill":"#000000","stroke":null}},
  {"spacing":19,
   "resolve":{"scale":{"color":"independent","stroke":"independent"}},
   "vconcat":[
   {"spacing":0,"bounds":"flush",
    "resolve":{"scale":{"color":"independent","stroke":"independent"}},
    "vconcat":[
    {"width":531,"height":20,"data":{"values":[]},"mark":"point"},
    {"width":531,"height":30,"view":{"fill":"#c8c8c8","stroke":null},"data":{"values":[{"t":"NASDAQ-100"}]},"mark":{"type":"text","font":"DejaVu Serif","fontSize":19.5,"color":"#1a1a1a","baseline":"alphabetic","dy":13},"encoding":{"text":{"field":"t"}}},
    {"width":531,"height":234,
     "layer":[
      {"data":{"name":"tr_d"},"transform":[{"filter":"datum.m==='NRP'"}],"mark":{"type":"area","fill":"#bb2f38","fillOpacity":0.8,"stroke":"#000000","strokeWidth":2,"interpolate":"monotone"},
       "encoding":{"x":{"field":"x","type":"quantitative","scale":{"domain":[-0.393,0.7],"nice":false,"zero":false},"axis":{"values":[-0.2,0,0.2,0.4,0.6],"labels":false,"ticks":false,"title":null}},
        "y":{"field":"y","type":"quantitative","scale":{"domain":[-0.604,3.811],"nice":false,"zero":false},"axis":{"values":[0,1,2],"title":null,"labelExpr":"datum.value == 2 ? 'NRP' : datum.value == 1 ? 'IECPρ' : 'ERC'"}},"y2":{"datum":2}}},
      {"data":{"name":"tr_r"},"transform":[{"filter":"datum.m==='NRP'"}],"mark":{"type":"rect","fill":"#000000","stroke":"#5b4a86","strokeWidth":1},"encoding":{"x":{"field":"x","type":"quantitative"},"x2":{"field":"x2"},"y":{"datum":2},"y2":{"datum":1.68}}},
      {"data":{"name":"tr_p"},"transform":[{"filter":"datum.m==='NRP'"}],"mark":{"type":"rule","strokeWidth":1.5,"opacity":0.8},"encoding":{"x":{"field":"x","type":"quantitative"},"y":{"datum":2},"y2":{"datum":1.68},"stroke":{"field":"date","type":"nominal","scale":{"domain":["2016-05-17","2006-09-15","2005-05-17"],"range":["#ff5a0a","#00b5e0","#f200d2"]},"legend":null}}},
      {"data":{"name":"tr_p"},"transform":[{"filter":"datum.m==='NRP'"}],"mark":{"type":"circle","size":150,"opacity":1},"encoding":{"x":{"field":"x","type":"quantitative"},"y":{"datum":2},"color":{"field":"date","type":"nominal","scale":{"domain":["2005-05-17","2006-09-15","2016-05-17"],"range":["#f200d2","#00b5e0","#ff5a0a"]},"legend":{"orient":"none","legendX":348,"legendY":15,"title":null,"symbolType":"circle","symbolSize":150,"labelFont":"DejaVu Serif","labelFontSize":17.5,"labelColor":"#1a1a1a","labelOffset":29,"rowPadding":11,"padding":0,"labelBaseline":"top"}}}},
      {"data":{"name":"tr_d"},"transform":[{"filter":"datum.m==='IECP'"}],"mark":{"type":"area","fill":"#0f7e90","fillOpacity":0.8,"stroke":"#000000","strokeWidth":2,"interpolate":"monotone"},"encoding":{"x":{"field":"x","type":"quantitative"},"y":{"field":"y","type":"quantitative"},"y2":{"datum":1}}},
      {"data":{"name":"tr_r"},"transform":[{"filter":"datum.m==='IECP'"}],"mark":{"type":"rect","fill":"#000000","stroke":"#5b4a86","strokeWidth":1},"encoding":{"x":{"field":"x","type":"quantitative"},"x2":{"field":"x2"},"y":{"datum":1},"y2":{"datum":0.68}}},
      {"data":{"name":"tr_p"},"transform":[{"filter":"datum.m==='IECP'"}],"mark":{"type":"rule","strokeWidth":1.5,"opacity":0.8},"encoding":{"x":{"field":"x","type":"quantitative"},"y":{"datum":1},"y2":{"datum":0.68},"stroke":{"field":"date","type":"nominal","scale":{"domain":["2016-05-17","2006-09-15","2005-05-17"],"range":["#ff5a0a","#00b5e0","#f200d2"]},"legend":null}}},
      {"data":{"name":"tr_p"},"transform":[{"filter":"datum.m==='IECP'"}],"mark":{"type":"circle","size":150,"opacity":1},"encoding":{"x":{"field":"x","type":"quantitative"},"y":{"datum":1},"color":{"field":"date","type":"nominal","scale":{"domain":["2005-05-17","2006-09-15","2016-05-17"],"range":["#f200d2","#00b5e0","#ff5a0a"]}}}},
      {"data":{"name":"tr_d"},"transform":[{"filter":"datum.m==='ERC'"}],"mark":{"type":"area","fill":"#881988","fillOpacity":0.8,"stroke":"#000000","strokeWidth":2,"interpolate":"monotone"},"encoding":{"x":{"field":"x","type":"quantitative"},"y":{"field":"y","type":"quantitative"},"y2":{"datum":0}}},
      {"data":{"name":"tr_r"},"transform":[{"filter":"datum.m==='ERC'"}],"mark":{"type":"rect","fill":"#000000","stroke":"#5b4a86","strokeWidth":1},"encoding":{"x":{"field":"x","type":"quantitative"},"x2":{"field":"x2"},"y":{"datum":0},"y2":{"datum":-0.32}}},
      {"data":{"name":"tr_p"},"transform":[{"filter":"datum.m==='ERC'"}],"mark":{"type":"rule","strokeWidth":1.5,"opacity":0.8},"encoding":{"x":{"field":"x","type":"quantitative"},"y":{"datum":0},"y2":{"datum":-0.32},"stroke":{"field":"date","type":"nominal","scale":{"domain":["2016-05-17","2006-09-15","2005-05-17"],"range":["#ff5a0a","#00b5e0","#f200d2"]},"legend":null}}},
      {"data":{"name":"tr_p"},"transform":[{"filter":"datum.m==='ERC'"}],"mark":{"type":"circle","size":150,"opacity":1},"encoding":{"x":{"field":"x","type":"quantitative"},"y":{"datum":0},"color":{"field":"date","type":"nominal","scale":{"domain":["2005-05-17","2006-09-15","2016-05-17"],"range":["#f200d2","#00b5e0","#ff5a0a"]}}}}
     ]}
    ]},
   {"spacing":0,"bounds":"flush",
    "resolve":{"scale":{"color":"independent","stroke":"independent"}},
    "vconcat":[
    {"width":531,"height":30,"view":{"fill":"#c8c8c8","stroke":null},"data":{"values":[{"t":"S&P 500"}]},"mark":{"type":"text","font":"DejaVu Serif","fontSize":19.5,"color":"#1a1a1a","baseline":"alphabetic","dy":13},"encoding":{"text":{"field":"t"}}},
    {"width":531,"height":234,
     "layer":[
      {"data":{"name":"br_d"},"transform":[{"filter":"datum.m==='NRP'"}],"mark":{"type":"area","fill":"#bb2f38","fillOpacity":0.8,"stroke":"#000000","strokeWidth":2,"interpolate":"monotone"},
       "encoding":{"x":{"field":"x","type":"quantitative","scale":{"domain":[-0.393,0.7],"nice":false,"zero":false},"axis":{"values":[-0.2,0,0.2,0.4,0.6],"format":".1f","labelExpr":"replace(datum.label, '−', '-')","title":"allocation weights after leverage"}},
        "y":{"field":"y","type":"quantitative","scale":{"domain":[-0.604,3.811],"nice":false,"zero":false},"axis":{"values":[0,1,2],"title":null,"labelExpr":"datum.value == 2 ? 'NRP' : datum.value == 1 ? 'IECPρ' : 'ERC'"}},"y2":{"datum":2}}},
      {"data":{"name":"br_r"},"transform":[{"filter":"datum.m==='NRP'"}],"mark":{"type":"rect","fill":"#000000","stroke":"#5b4a86","strokeWidth":1},"encoding":{"x":{"field":"x","type":"quantitative"},"x2":{"field":"x2"},"y":{"datum":2},"y2":{"datum":1.68}}},
      {"data":{"name":"br_p"},"transform":[{"filter":"datum.m==='NRP'"}],"mark":{"type":"rule","strokeWidth":1.5,"opacity":0.8},"encoding":{"x":{"field":"x","type":"quantitative"},"y":{"datum":2},"y2":{"datum":1.68},"stroke":{"field":"date","type":"nominal","scale":{"domain":["2016-05-17","2006-09-15","2005-05-17"],"range":["#ff5a0a","#00b5e0","#f200d2"]},"legend":null}}},
      {"data":{"name":"br_p"},"transform":[{"filter":"datum.m==='NRP'"}],"mark":{"type":"circle","size":150,"opacity":1},"encoding":{"x":{"field":"x","type":"quantitative"},"y":{"datum":2},"color":{"field":"date","type":"nominal","scale":{"domain":["2005-05-17","2006-09-15","2016-05-17"],"range":["#f200d2","#00b5e0","#ff5a0a"]},"legend":null}}},
      {"data":{"name":"br_d"},"transform":[{"filter":"datum.m==='IECP'"}],"mark":{"type":"area","fill":"#0f7e90","fillOpacity":0.8,"stroke":"#000000","strokeWidth":2,"interpolate":"monotone"},"encoding":{"x":{"field":"x","type":"quantitative"},"y":{"field":"y","type":"quantitative"},"y2":{"datum":1}}},
      {"data":{"name":"br_r"},"transform":[{"filter":"datum.m==='IECP'"}],"mark":{"type":"rect","fill":"#000000","stroke":"#5b4a86","strokeWidth":1},"encoding":{"x":{"field":"x","type":"quantitative"},"x2":{"field":"x2"},"y":{"datum":1},"y2":{"datum":0.68}}},
      {"data":{"name":"br_p"},"transform":[{"filter":"datum.m==='IECP'"}],"mark":{"type":"rule","strokeWidth":1.5,"opacity":0.8},"encoding":{"x":{"field":"x","type":"quantitative"},"y":{"datum":1},"y2":{"datum":0.68},"stroke":{"field":"date","type":"nominal","scale":{"domain":["2016-05-17","2006-09-15","2005-05-17"],"range":["#ff5a0a","#00b5e0","#f200d2"]},"legend":null}}},
      {"data":{"name":"br_p"},"transform":[{"filter":"datum.m==='IECP'"}],"mark":{"type":"circle","size":150,"opacity":1},"encoding":{"x":{"field":"x","type":"quantitative"},"y":{"datum":1},"color":{"field":"date","type":"nominal","scale":{"domain":["2005-05-17","2006-09-15","2016-05-17"],"range":["#f200d2","#00b5e0","#ff5a0a"]},"legend":null}}},
      {"data":{"name":"br_d"},"transform":[{"filter":"datum.m==='ERC'"}],"mark":{"type":"area","fill":"#881988","fillOpacity":0.8,"stroke":"#000000","strokeWidth":2,"interpolate":"monotone"},"encoding":{"x":{"field":"x","type":"quantitative"},"y":{"field":"y","type":"quantitative"},"y2":{"datum":0}}},
      {"data":{"name":"br_r"},"transform":[{"filter":"datum.m==='ERC'"}],"mark":{"type":"rect","fill":"#000000","stroke":"#5b4a86","strokeWidth":1},"encoding":{"x":{"field":"x","type":"quantitative"},"x2":{"field":"x2"},"y":{"datum":0},"y2":{"datum":-0.32}}},
      {"data":{"name":"br_p"},"transform":[{"filter":"datum.m==='ERC'"}],"mark":{"type":"rule","strokeWidth":1.5,"opacity":0.8},"encoding":{"x":{"field":"x","type":"quantitative"},"y":{"datum":0},"y2":{"datum":-0.32},"stroke":{"field":"date","type":"nominal","scale":{"domain":["2016-05-17","2006-09-15","2005-05-17"],"range":["#ff5a0a","#00b5e0","#f200d2"]},"legend":null}}},
      {"data":{"name":"br_p"},"transform":[{"filter":"datum.m==='ERC'"}],"mark":{"type":"circle","size":150,"opacity":1},"encoding":{"x":{"field":"x","type":"quantitative"},"y":{"datum":0},"color":{"field":"date","type":"nominal","scale":{"domain":["2005-05-17","2006-09-15","2016-05-17"],"range":["#f200d2","#00b5e0","#ff5a0a"]},"legend":null}}}
     ]}
    ]}
   ]}
  ]}
 ]}
]
}
